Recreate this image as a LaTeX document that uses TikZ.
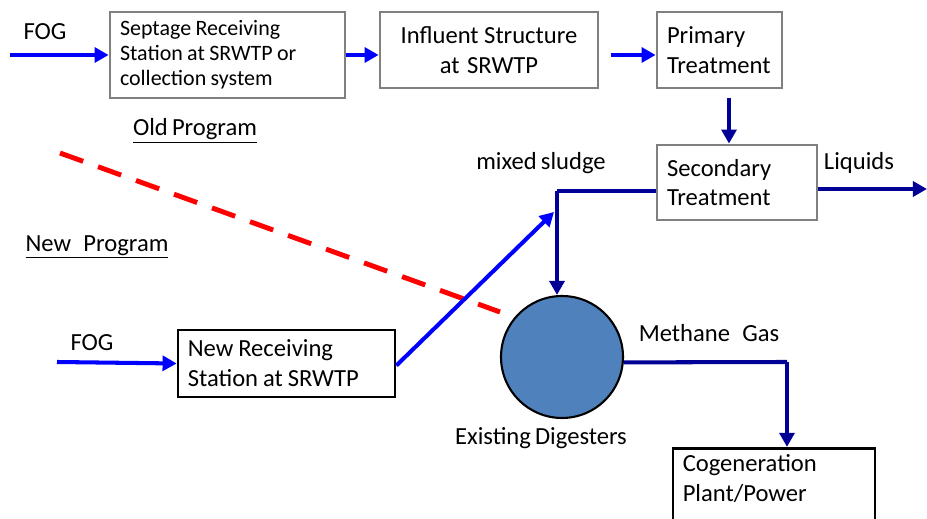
\documentclass[tikz,border=0pt]{standalone}
\usepackage{fontspec}
\setmainfont{Carlito}[WordSpace=0.75]
\usepackage{tikz}
\usetikzlibrary{arrows,arrows.meta}

\definecolor{flowblue}{RGB}{0,0,255}
\definecolor{flownavy}{RGB}{0,0,150}
\definecolor{digblue}{RGB}{79,129,189}
\newcommand{\tightspaces}{\spaceskip=0.2em plus 0.1em\relax}

\begin{document}
\begin{tikzpicture}[>={Triangle[length=8pt,width=8.5pt]}, x=0.02cm, y=-0.02cm,
	font=\fontsize{14}{17}\selectfont,
	graybox/.style={draw=gray, line width=1.6pt, align=left, inner xsep=5pt,
		execute at begin node=\tightspaces},
	blackbox/.style={draw=black, line width=1.6pt, align=left, inner xsep=5pt,
		execute at begin node=\tightspaces},
	bluearrow/.style={->, draw=flowblue, line width=2.3pt},
	navyarrow/.style={->, draw=flownavy, line width=2.3pt},
	navyline/.style={draw=flownavy, line width=2.3pt}]
		%\draw [help lines] (0,0) grid (927,519);
		\useasboundingbox (0,0) rectangle (927,519);
		\clip (0,0) rectangle (927,519);
		% Vecchio programma
		\node (fogold) at (45,32) {FOG};
		\node [graybox, minimum width=4.7cm, minimum height=1.72cm, text width=4.3cm,
			font=\fontsize{12.5}{14.2}\selectfont] (septage) at (227.5,55)
			{Septage Receiving\\Station at SRWTP or\\collection system};
		\node [graybox, minimum width=4.36cm, minimum height=1.52cm, text width=4cm,
			align=center] (influent) at (489,50) {Influent Structure\\at SRWTP};
		\node [graybox, minimum width=2.5cm, minimum height=1.52cm, text width=2.1cm]
			(primary) at (719.5,50) {Primary\\Treatment};
		\node [graybox, minimum width=3.2cm, minimum height=1.5cm, text width=2.8cm]
			(secondary) at (737,182.5) {Secondary\\Treatment};
		\node (oldprog) at (195,131) {\underline{Old Program}};
		\coordinate (fogstart) at (10,55);
		\draw [bluearrow] (fogstart) -- (septage.west);
		\draw [bluearrow] (septage.east) -- (septage.east -| influent.west);
		\draw [bluearrow] ([xshift=0.24cm]influent.east |- septage.east)
			-- (septage.east -| primary.west);
		\draw [navyarrow] ([xshift=0.19cm,yshift=-0.18cm]primary.south)
			-- ([xshift=0.19cm]primary.south |- secondary.north);
		% Liquidi
		\node (liquids) at (859,163) {Liquids};
		\coordinate (liqend) at (927,189);
		\draw [navyarrow] (secondary.east |- liqend) -- (liqend);
		% Linea di separazione
		\coordinate (sepstart) at (60,153);
		\coordinate (sepend) at (500,312);
		\draw [red, line width=2.8pt, dash pattern=on 14pt off 9pt] (sepstart) -- (sepend);
		% Nuovo programma
		\node (newprog) at (97,247) {\underline{New\enspace Program}};
		\node (fognew) at (92,343) {FOG};
		\node [blackbox, minimum width=4.34cm, minimum height=1.34cm, text width=3.95cm]
			(station) at (286.5,363.5) {New Receiving\\Station at SRWTP};
		\coordinate (fognewstart) at (57,362);
		\draw [bluearrow] (fognewstart) -- (station.west);
		% Fanghi misti
		\node (sludge) at (541,163) {mixed sludge};
		\coordinate (sludgejoin) at (557,191);
		\node [circle, draw=black, line width=1.2pt, fill=digblue, minimum size=2.44cm]
			(digester) at (562,357) {};
		\node (diglabel) at (541,438) {Existing Digesters};
		\draw [navyline] (secondary.west |- sludgejoin) -- (sludgejoin);
		\draw [navyarrow] (sludgejoin) -- (sludgejoin |- digester.north);
		\draw [bluearrow] ([yshift=-0.04cm]station.east) -- (554,212);
		% Metano
		\node (methane) at (709,333) {Methane\enspace Gas};
		\node [blackbox, minimum width=4.04cm, text width=3.65cm]
			(cogen) at (774,497) {Cogeneration\\Plant/Power\\\strut};
		\coordinate (gasbend) at (787,362);
		\draw [navyline] (digester.-5) -- (gasbend);
		\draw [navyarrow] (gasbend) -- (gasbend |- cogen.north);
	\end{tikzpicture}
\end{document}
